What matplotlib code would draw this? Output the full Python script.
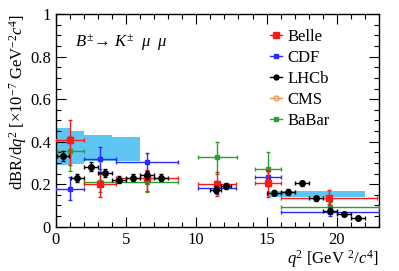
import matplotlib
matplotlib.use("Agg")
import matplotlib.pyplot as plt
from matplotlib.lines import Line2D
from matplotlib.ticker import MultipleLocator
import numpy as np

plt.rcParams['font.family'] = ['Liberation Serif', 'DejaVu Serif']
plt.rcParams['mathtext.fontset'] = 'custom'
plt.rcParams['mathtext.rm'] = 'Liberation Serif'
plt.rcParams['mathtext.it'] = 'Liberation Serif:italic'

# theory band (SM prediction), per q2 bin
band_edges = [0, 1, 2, 4, 6]
band_lo = [0.29, 0.295, 0.31, 0.31]
band_hi = [0.463, 0.452, 0.432, 0.42]
band2_edges = [15, 22]
band2_lo = [0.14]
band2_hi = [0.166]

# Belle
belle_lo = [0.0, 2.0, 4.3, 10.09, 14.18, 16.0]
belle_hi = [2.0, 4.3, 8.68, 12.86, 16.0, 22.86]
belle_y = [0.41, 0.20, 0.23, 0.20, 0.207, 0.136]
belle_up = [0.09, 0.05, 0.035, 0.055, 0.06, 0.035]
belle_dn = [0.12, 0.06, 0.06, 0.055, 0.066, 0.03]

# CDF
cdf_lo = [0.0, 2.0, 4.3, 10.09, 14.18, 16.0]
cdf_hi = [2.0, 4.3, 8.68, 12.86, 16.0, 23.0]
cdf_y = [0.176, 0.317, 0.303, 0.183, 0.232, 0.071]
cdf_up = [0.058, 0.056, 0.043, 0.03, 0.03, 0.02]
cdf_dn = [0.05, 0.06, 0.045, 0.03, 0.03, 0.02]

# LHCb
lhcb_lo = [0.1, 1.1, 2, 3, 4, 5, 6, 7, 11, 11.75, 15, 16, 17, 18, 19, 20, 21]
lhcb_hi = [0.98, 2, 3, 4, 5, 6, 7, 8, 11.75, 12.5, 16, 17, 18, 19, 20, 21, 22]
lhcb_y = [0.332, 0.230, 0.282, 0.254, 0.221, 0.231, 0.243, 0.231, 0.174, 0.191,
          0.16, 0.163, 0.204, 0.134, 0.075, 0.058, 0.041]
lhcb_err = [0.022, 0.018, 0.02, 0.019, 0.017, 0.018, 0.018, 0.018, 0.016, 0.015,
            0.012, 0.012, 0.013, 0.011, 0.008, 0.007, 0.006]

# BaBar
babar_lo = [0.1, 2.0, 4.3, 10.11, 14.21, 16.0]
babar_hi = [2.0, 4.3, 8.68, 12.89, 16.0, 23.0]
babar_y = [0.357, 0.212, 0.212, 0.329, 0.27, 0.094]
babar_up = [0.07, 0.06, 0.045, 0.068, 0.083, 0.02]
babar_dn = [0.094, 0.05, 0.047, 0.079, 0.08, 0.03]

fs = 12

fig = plt.figure(figsize=(3.99, 2.71), dpi=100)
ax = fig.add_axes([0.1396, 0.1635, 0.8104, 0.7845])

band_col = '#5fc5f3'
ax.fill_between(band_edges, band_lo + band_lo[-1:], band_hi + band_hi[-1:],
                step='post', color=band_col, lw=0, zorder=1)
ax.fill_between(band2_edges, band2_lo + band2_lo[-1:], band2_hi + band2_hi[-1:],
                step='post', color=band_col, lw=0, zorder=1)


def draw(lo, hi, y, dn, up, color, marker, ms, z=3):
    lo = np.array(lo)
    hi = np.array(hi)
    x = (lo + hi) / 2
    ax.errorbar(x, y, xerr=[x - lo, hi - x], yerr=[dn, up], fmt=marker,
                color=color, ms=ms, mfc=color, mec=color,
                elinewidth=1.0, capsize=1.2, capthick=1.0, zorder=z)


draw(babar_lo, babar_hi, babar_y, babar_dn, babar_up, '#2ca02c', 's', 2.5, z=3)
draw(cdf_lo, cdf_hi, cdf_y, cdf_dn, cdf_up, '#2b2bff', 's', 2.5, z=4)
draw(belle_lo, belle_hi, belle_y, belle_dn, belle_up, '#ff1a1a', 's', 5, z=5)
draw(lhcb_lo, lhcb_hi, lhcb_y, lhcb_err, lhcb_err, 'black', 'o', 4, z=6)

ax.set_xlim(0, 23)
ax.set_ylim(0, 1)
ax.xaxis.set_major_locator(MultipleLocator(5))
ax.xaxis.set_minor_locator(MultipleLocator(1))
ax.yaxis.set_minor_locator(MultipleLocator(0.05))
ax.set_yticks([0, 0.2, 0.4, 0.6, 0.8, 1.0])
ax.set_yticklabels(['0', '0.2', '0.4', '0.6', '0.8', '1'])
ax.tick_params(which='both', direction='in', top=True, right=True, labelsize=fs, width=0.8)
ax.tick_params(which='major', length=7)
ax.tick_params(which='minor', length=3.5)
for s in ax.spines.values():
    s.set_linewidth(1.0)

ax.set_ylabel(r'dBR/d$q^2$ [$\times$10$^{-7}$ GeV$^{-2}$$c^4$]', fontsize=fs,
              loc='top', labelpad=1)
ax.set_xlabel(r'$q^2$ [GeV $^2$/$c^4$]', fontsize=fs, loc='right', labelpad=0.5)

ax.text(0.06, 0.865, r'$B^{\pm}\!\rightarrow\, K^{\pm}\ \ \mu\ \ \mu$', transform=ax.transAxes,
        fontsize=fs, va='center', ha='left')

handles = [
    Line2D([], [], color='#ff1a1a', marker='s', ms=4, lw=1.0),
    Line2D([], [], color='#2b2bff', marker='s', ms=2.5, lw=1.0),
    Line2D([], [], color='black', marker='o', ms=3.5, lw=1.0),
    Line2D([], [], color='#e8964f', marker='o', ms=3.5, mfc='none', lw=1.0),
    Line2D([], [], color='#2ca02c', marker='s', ms=2.5, lw=1.0),
]
ax.legend(handles, ['Belle', 'CDF', 'LHCb', 'CMS', 'BaBar'], loc='upper left',
          bbox_to_anchor=(0.628, 0.985), frameon=False, fontsize=fs,
          handlelength=0.7, handletextpad=0.3, labelspacing=0.3, borderpad=0.2)

fig.savefig('out.png', dpi=100)
